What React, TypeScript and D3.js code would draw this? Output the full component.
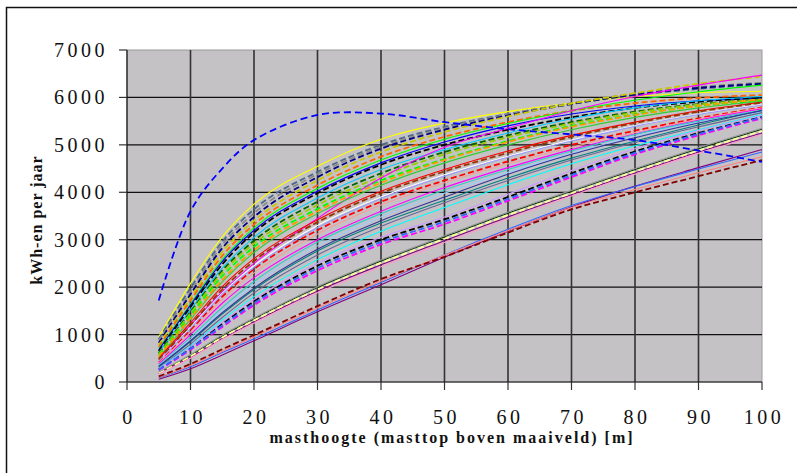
import * as d3 from "d3";

// mast heights (m) at which each turbine's yearly yield was read
const heights = [5, 10, 15, 20, 30, 40, 50, 60, 70, 80, 90, 100];

// kWh per year, one row per turbine
const yields: number[][] = [
  [950, 2080, 3060, 3750, 4550, 5120, 5460, 5700, 5880, 6020, 6100, 6130],
  [900, 1980, 2960, 3640, 4430, 5000, 5380, 5650, 5870, 6050, 6180, 6280],
  [870, 1900, 2890, 3560, 4380, 4960, 5350, 5640, 5880, 6080, 6220, 6310],
  [820, 1850, 2820, 3480, 4320, 4920, 5320, 5620, 5860, 6060, 6200, 6290],
  [780, 1780, 2740, 3400, 4250, 4850, 5270, 5600, 5870, 6090, 6290, 6440],
  [740, 1720, 2660, 3320, 4150, 4750, 5170, 5480, 5720, 5880, 5990, 6050],
  [700, 1650, 2580, 3250, 4080, 4680, 5120, 5450, 5720, 5940, 6120, 6260],
  [680, 1620, 2540, 3200, 4020, 4620, 5060, 5400, 5650, 5820, 5930, 5980],
  [650, 1580, 2480, 3150, 3980, 4580, 5000, 5320, 5580, 5780, 5910, 6000],
  [620, 1520, 2400, 3050, 3880, 4480, 4900, 5250, 5550, 5780, 5930, 6020],
  [600, 1480, 2350, 2980, 3800, 4400, 4850, 5200, 5480, 5700, 5860, 5960],
  [580, 1450, 2300, 2920, 3730, 4330, 4800, 5160, 5450, 5680, 5850, 5950],
  [560, 1400, 2230, 2850, 3650, 4250, 4700, 5080, 5400, 5640, 5820, 5930],
  [480, 1200, 1900, 2500, 3450, 4300, 4950, 5350, 5720, 6020, 6260, 6470],
  [520, 1320, 2110, 2730, 3550, 4150, 4620, 5000, 5320, 5580, 5780, 5920],
  [540, 1350, 2150, 2780, 3600, 4200, 4680, 5060, 5380, 5630, 5820, 5960],
  [450, 1150, 1870, 2450, 3300, 3900, 4370, 4760, 5100, 5400, 5650, 5850],
  [420, 1100, 1800, 2380, 3200, 3800, 4250, 4650, 5000, 5300, 5560, 5790],
  [400, 1050, 1740, 2300, 3120, 3730, 4200, 4600, 4950, 5260, 5540, 5780],
  [380, 1000, 1660, 2200, 3000, 3600, 4100, 4520, 4900, 5230, 5520, 5760],
  [500, 1250, 2010, 2600, 3420, 4020, 4480, 4870, 5200, 5480, 5720, 5900],
  [470, 1200, 1950, 2550, 3370, 3980, 4440, 4830, 5170, 5460, 5700, 5890],
  [440, 1130, 1850, 2420, 3250, 3870, 4340, 4740, 5080, 5390, 5640, 5840],
  [360, 940, 1570, 2120, 2950, 3550, 4050, 4480, 4870, 5220, 5500, 5730],
  [340, 900, 1510, 2050, 2870, 3480, 3980, 4420, 4820, 5180, 5470, 5700],
  [320, 850, 1430, 1950, 2760, 3350, 3830, 4300, 4720, 5080, 5420, 5730],
  [300, 800, 1360, 1880, 2680, 3280, 3780, 4250, 4680, 5050, 5380, 5680],
  [290, 760, 1310, 1800, 2580, 3180, 3680, 4160, 4600, 4980, 5320, 5640],
  [270, 720, 1230, 1700, 2450, 3000, 3430, 3900, 4400, 4860, 5250, 5590],
  [280, 740, 1260, 1740, 2500, 3050, 3480, 3960, 4460, 4920, 5300, 5620],
  [250, 680, 1160, 1620, 2350, 2900, 3330, 3820, 4320, 4800, 5200, 5560],
  [260, 700, 1190, 1660, 2400, 2950, 3380, 3860, 4360, 4830, 5230, 5580],
  [330, 870, 1460, 1980, 2800, 3400, 3900, 4380, 4800, 5150, 5460, 5720],
  [200, 560, 970, 1330, 1990, 2550, 3060, 3560, 4020, 4480, 4920, 5330],
  [180, 520, 920, 1270, 1920, 2470, 2980, 3480, 3950, 4410, 4850, 5250],
  [190, 540, 940, 1300, 1950, 2510, 3020, 3520, 3980, 4440, 4880, 5290],
  [170, 500, 890, 1240, 1880, 2430, 2940, 3440, 3920, 4380, 4820, 5220],
  [210, 580, 990, 1350, 2010, 2570, 3080, 3580, 4040, 4500, 4940, 5350],
  [60, 280, 570, 870, 1480, 2050, 2630, 3180, 3690, 4130, 4520, 4900],
  [90, 320, 620, 910, 1520, 2100, 2680, 3220, 3720, 4120, 4490, 4850],
  [100, 350, 650, 950, 1560, 2130, 2670, 3190, 3680, 4060, 4410, 4750],
  [120, 380, 690, 990, 1600, 2170, 2640, 3150, 3640, 4000, 4340, 4680],
  [1720, 3600, 4500, 5100, 5630, 5660, 5480, 5330, 5220, 5100, 4880, 4640],
];

const colors = [
  "#ffff00", "#4a6a8a", "#8a8a8a", "#000080", "#c8c800", "#ff6600", "#00ff00", "#0000ff",
  "#000000", "#00ccff", "#006400", "#99cc00", "#00ff00", "#ff00ff", "#33cc33", "#ff9900",
  "#ffffff", "#ff0000", "#ff9999", "#ff00ff", "#ff0000", "#993300", "#9999ff", "#33cccc",
  "#99ccff", "#008080", "#666699", "#00ffff", "#000000", "#cc99ff", "#ff00ff", "#3366ff",
  "#333399", "#003300", "#800080", "#ffff99", "#ff99cc", "#969696", "#800080", "#3366ff",
  "#ff8080", "#800000", "#0000ff",
];

const dashed = [
  false, true, true, true, true, true, false, false,
  true, false, true, true, true, false, false, true,
  false, true, false, false, false, true, false, false,
  false, false, false, false, true, false, true, true,
  false, false, false, true, false, false, false, false,
  false, true, true,
];

const yTicks = [0, 1000, 2000, 3000, 4000, 5000, 6000, 7000];
const xTicks = [0, 10, 20, 30, 40, 50, 60, 70, 80, 90, 100];

const W = 797;
const H = 473;
const left = 127;
const right = 762;
const top = 50;
const bottom = 382;

export default function App() {
  const x = d3.scaleLinear().domain([0, 100]).range([left, right]);
  const y = d3.scaleLinear().domain([0, 7000]).range([bottom, top]);
  const line = d3
    .line<number>()
    .x((_, i) => x(heights[i]))
    .y((d) => y(d))
    .curve(d3.curveMonotoneX);
  // the odd one that peaks and drops again gets a rounder curve
  const arc = d3
    .line<number>()
    .x((_, i) => x(heights[i]))
    .y((d) => y(d))
    .curve(d3.curveCatmullRom.alpha(0.5));

  const serif = "'Liberation Serif', 'DejaVu Serif', serif";
  const last = yields.length - 1;

  return (
    <svg
      width={W}
      height={H}
      style={{ position: "absolute", left: 0, top: 0, background: "#fff" }}
    >
      <rect x={6.5} y={7.5} width={900} height={600} fill="#fff" stroke="#111" strokeWidth={1.5} />

      <rect x={left} y={top} width={right - left} height={bottom - top} fill="#c5c2c5" stroke="#9a9a9a" />

      {yTicks.slice(1, -1).map((t) => (
        <line key={"gy" + t} x1={left} x2={right} y1={y(t)} y2={y(t)} stroke="#111" strokeWidth={1.2} />
      ))}
      {xTicks.slice(1, -1).map((t) => (
        <line key={"gx" + t} x1={x(t)} x2={x(t)} y1={top} y2={bottom} stroke="#333" strokeWidth={1.6} />
      ))}

      <g fill="none">
        {yields.map((d, i) => (
          <path
            key={i}
            d={(i === last ? arc(d) : line(d)) ?? ""}
            stroke={colors[i]}
            strokeWidth={dashed[i] ? 1.8 : 1.1}
            strokeDasharray={i === last ? "7,4" : dashed[i] ? "6,3" : undefined}
          />
        ))}
      </g>

      <line x1={left} x2={left} y1={top} y2={bottom} stroke="#111" strokeWidth={1.2} />
      <line x1={left} x2={right} y1={bottom} y2={bottom} stroke="#111" strokeWidth={1.2} />

      {yTicks.map((t) => (
        <g key={"ty" + t}>
          <line x1={left - 8} x2={left} y1={y(t)} y2={y(t)} stroke="#333" strokeWidth={1.2} />
          <text
            x={108}
            y={y(t) + 7}
            textAnchor="end"
            fontFamily={serif}
            fontSize={20}
            letterSpacing={3.5}
            fill="#111"
          >
            {t}
          </text>
        </g>
      ))}

      {xTicks.map((t) => (
        <g key={"tx" + t}>
          <line x1={x(t)} x2={x(t)} y1={bottom} y2={bottom + 8} stroke="#333" strokeWidth={1.2} />
          <text
            x={x(t) + 2}
            y={424}
            textAnchor="middle"
            fontFamily={serif}
            fontSize={20}
            letterSpacing={3.5}
            fill="#111"
          >
            {t}
          </text>
        </g>
      ))}

      <text
        x={452}
        y={443}
        textAnchor="middle"
        fontFamily={serif}
        fontSize={16}
        fontWeight="bold"
        letterSpacing={2}
        fill="#111"
      >
        masthoogte (masttop boven maaiveld) [m]
      </text>

      <text
        transform="translate(42,220) rotate(-90)"
        textAnchor="middle"
        fontFamily={serif}
        fontSize={16}
        fontWeight="bold"
        letterSpacing={1}
        fill="#111"
      >
        kWh-en per jaar
      </text>
    </svg>
  );
}
